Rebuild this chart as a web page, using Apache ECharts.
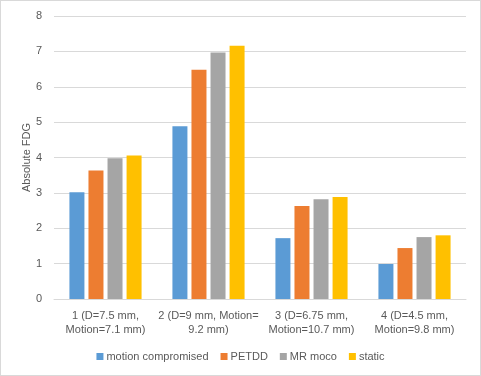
<!DOCTYPE html>
<html><head><meta charset="utf-8">
<script src="https://cdn.jsdelivr.net/npm/echarts@6/dist/echarts.min.js"></script>
<style>html,body{margin:0;padding:0;background:#fff}#c{width:481px;height:376px;box-sizing:border-box;border:1px solid #d9d9d9}</style>
</head><body><div id="c"></div>
<script>
const categories = ["1 (D=7.5 mm,\nMotion=7.1 mm)", "2 (D=9 mm, Motion=\n9.2 mm)", "3 (D=6.75 mm,\nMotion=10.7 mm)", "4 (D=4.5 mm,\nMotion=9.8 mm)"];
const motionCompromised = [3.02, 4.88, 1.72, 0.99];
const petdd = [3.63, 6.48, 2.63, 1.44];
const mrMoco = [3.98, 6.97, 2.82, 1.75];
const staticVals = [4.06, 7.16, 2.88, 1.80];
const yTicks = [0, 1, 2, 3, 4, 5, 6, 7, 8];
const names = ["motion compromised", "PETDD", "MR moco", "static"];
const colors = ["#5B9BD5", "#ED7D31", "#A5A5A5", "#FFC000"];
const font = "Liberation Sans";
const chart = echarts.init(document.getElementById('c'));
const dataSets = [motionCompromised, petdd, mrMoco, staticVals];
chart.setOption({
  animation: false,
  textStyle: {fontFamily: font},
  grid: {left: 53, right: 14, top: 15, bottom: 76, containLabel: false},
  legend: {
    bottom: 8, left: 'center', itemWidth: 7, itemHeight: 7, itemGap: 12, icon: 'rect',
    textStyle: {fontFamily: font, fontSize: 11, color: '#595959', padding: [0,0,0,-2]},
    data: names
  },
  xAxis: {
    type: 'category', data: categories,
    axisLine: {lineStyle: {color: '#d9d9d9'}},
    axisTick: {show: false},
    axisLabel: {color: '#595959', fontSize: 11, margin: 10, lineHeight: 14, interval: 0}
  },
  yAxis: {
    type: 'value', min: yTicks[0], max: yTicks[yTicks.length-1], interval: 1,
    name: 'Absolute FDG', nameLocation: 'middle', nameGap: 22, nameMoveOverlap: false,
    nameTextStyle: {color: '#595959', fontSize: 11},
    axisLine: {show: false}, axisTick: {show: false},
    axisLabel: {color: '#595959', fontSize: 11, margin: 12},
    splitLine: {lineStyle: {color: '#d9d9d9'}}
  },
  series: names.map((n, i) => ({
    name: n, type: 'bar', data: dataSets[i], barWidth: 15, barGap: '27%',
    itemStyle: {color: colors[i]}
  }))
});
</script></body></html>
